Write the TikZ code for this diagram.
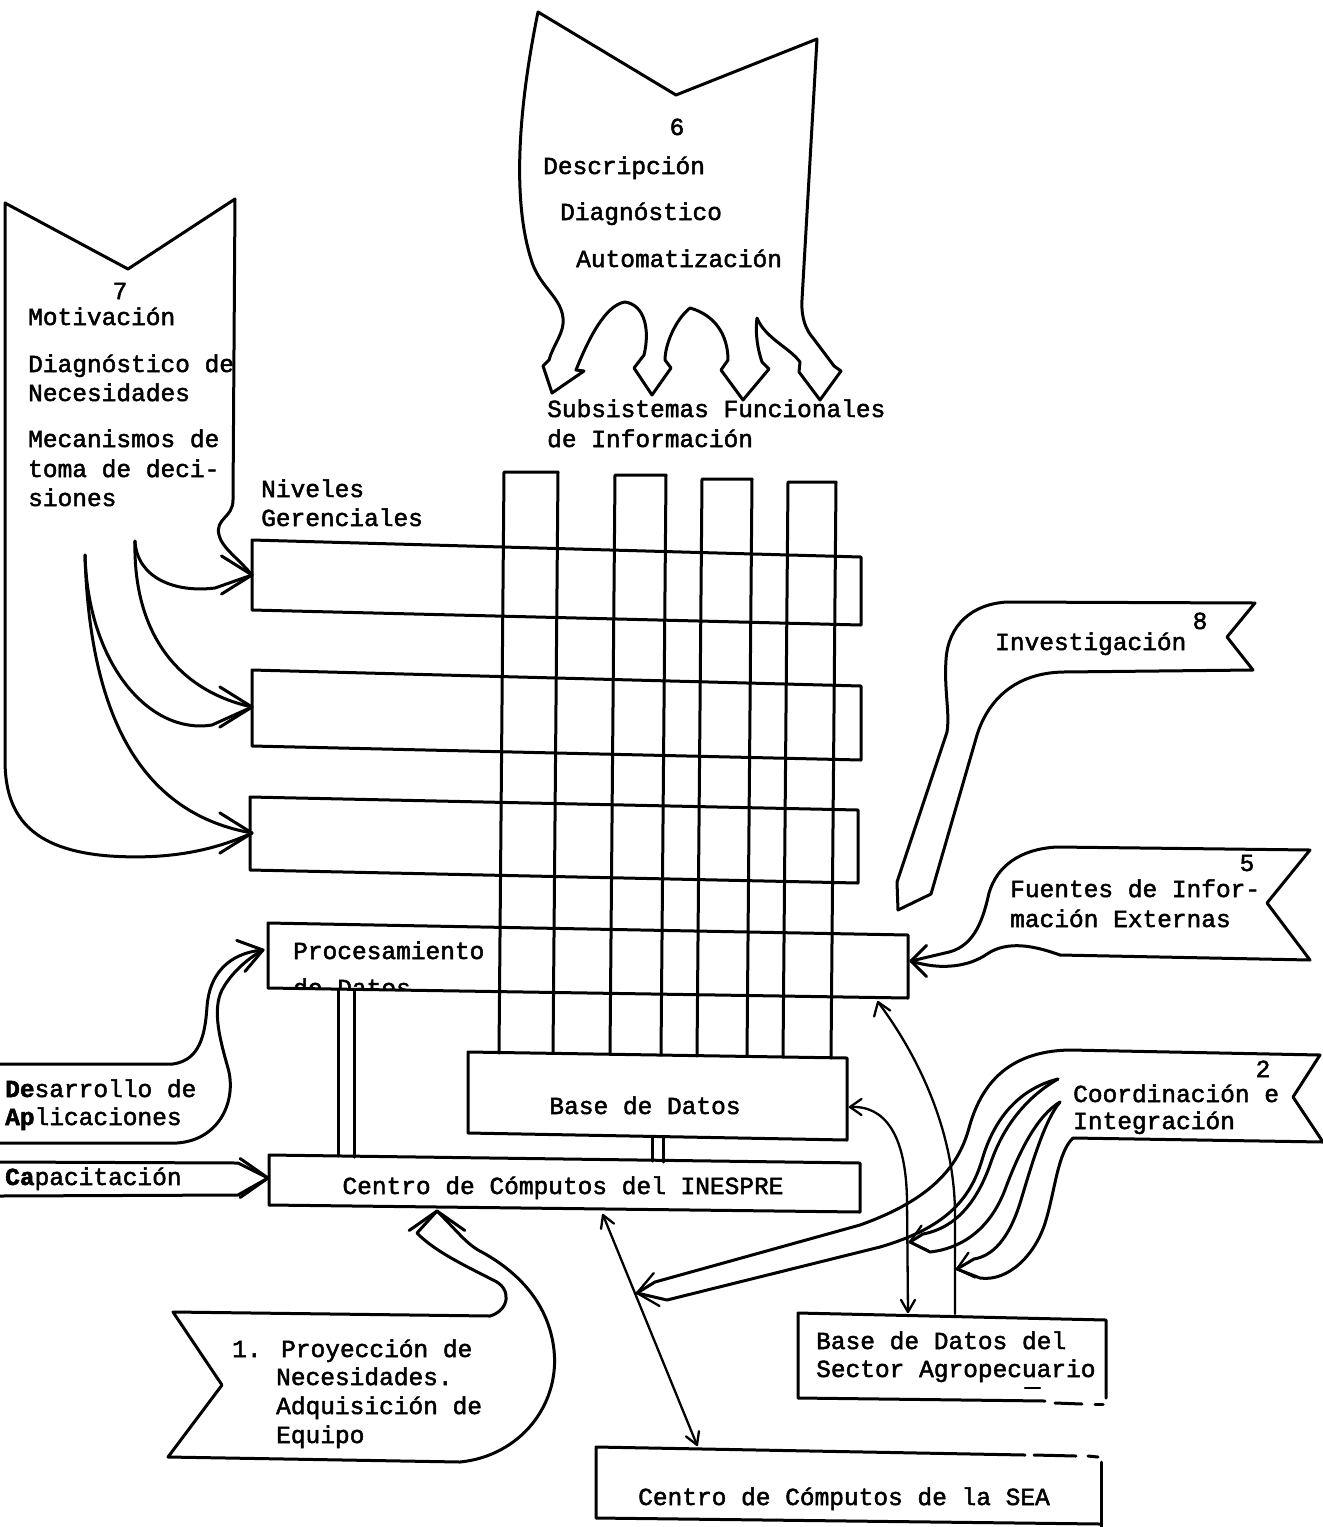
\documentclass[tikz,border=0pt]{standalone}
\usepackage{fontspec}
\newfontfamily\twfam{Liberation Mono}[FakeBold=2]
\usetikzlibrary{calc}
\newcommand\twf{\fontsize{24.5}{29}\selectfont\twfam}
\newcommand\barbs[5]{%
  \pgfmathsetmacro\bbA{#3+180-#4}%
  \pgfmathsetmacro\bbB{#3+180+#4}%
  \draw[#1] ($(#2)+(\bbA:#5)$) -- (#2) -- ($(#2)+(\bbB:#5)$);}
\tikzset{
  ln/.style={line width=3pt, line join=round, line cap=round},
  tn/.style={line width=2.3pt, line join=round, line cap=round},
  lbl/.style={anchor=base west, inner sep=0pt, font=\twf},
  lblc/.style={anchor=base, inner sep=0pt, font=\twf},
}
\begin{document}
\begin{tikzpicture}[x=1pt,y=-1pt]
\fill[white] (0,0) rectangle (1323,1527);
\useasboundingbox (0,0) rectangle (1323,1527);

% ---------- named tips ----------
\coordinate (tA) at (252,575);
\coordinate (tB) at (252,707);
\coordinate (tC) at (252,833);
\coordinate (s7a) at (135,541);
\coordinate (s7b) at (85,555);
\coordinate (t6a) at (552,393);
\coordinate (t6b) at (652,395);
\coordinate (t6c) at (743,400);
\coordinate (t6d) at (820,400);
\coordinate (t8) at (898,910);
\coordinate (t5) at (911,961);
\coordinate (tP) at (637,1293);
\coordinate (tQ) at (910,1242);
\coordinate (tR) at (957,1269);
\coordinate (c2a) at (1058,1079);
\coordinate (c2b) at (1060,1102);
\coordinate (bdR) at (850,1107);
\coordinate (agT1) at (908,1312);
\coordinate (agT2) at (955,1314);
\coordinate (prB) at (878,1002);
\coordinate (inB) at (603,1215);
\coordinate (seT) at (697,1445);
\coordinate (t1) at (437,1211);
\coordinate (tD) at (263,950);
\coordinate (tK) at (268,1178);

% ---------- shape 6 ----------
\draw[ln] (538,12) -- (676,95) -- (817,39) -- (802,300)
 .. controls (801,318) and (806,330) .. (813,338) -- (834,366) -- (841,371) -- (t6d) -- (799,372) -- (800,362)
 .. controls (790,348) and (765,338) .. (757,318)
 .. controls (755,335) and (758,350) .. (762,362) -- (769,369) -- (t6c) -- (721,370) -- (728,360)
 .. controls (728,335) and (715,315) .. (690,308)
 .. controls (675,320) and (665,345) .. (665,360) -- (671,368) -- (t6b) -- (634,368) -- (644,355)
 .. controls (650,330) and (645,305) .. (625,302)
 .. controls (605,305) and (588,340) .. (576,370) -- (584,371) -- (t6a) -- (543,366) -- (549,360)
 .. controls (553,345) and (565,332) .. (563,318)
 .. controls (561,298) and (542,288) .. (533,265)
 .. controls (510,200) and (520,100) .. (538,12) -- cycle;
\node[lblc] (n6) at (677,135) {6};
\node[lbl] (n6a) at (543,174) {Descripción};
\node[lbl] (n6b) at (560,220) {Diagnóstico};
\node[lbl] (n6c) at (576,267) {Automatización};
\node[lbl] (nsa) at (547,417) {Subsistemas Funcionales};
\node[lbl] (nsb) at (547,447) {de Información};

% ---------- shape 7 ----------
\draw[ln] (tA) .. controls (238,558) and (222,548) .. (219,535)
 .. controls (215,518) and (233,518) .. (233,500) -- (235,199) -- (128,269) -- (5,203)
 -- (5,760) .. controls (5,815) and (30,850) .. (110,856)
 .. controls (170,860) and (215,850) .. (tC);
\draw[ln] (s7a) .. controls (137,578) and (175,593) .. (215,588) -- (tA);
\draw[ln] (s7a) .. controls (133,630) and (175,690) .. (tB);
\draw[ln] (s7b) .. controls (88,665) and (150,735) .. (212,725) -- (tB);
\draw[ln] (s7b) .. controls (90,730) and (150,815) .. (tC);
\barbs{ln}{tA}{0}{32}{36}
\barbs{ln}{tB}{0}{32}{38}
\barbs{ln}{tC}{0}{32}{38}
\node[lblc] (n7) at (120,299) {7};
\node[lbl] (n7a) at (28,325) {Motivación};
\node[lbl] (n7b) at (28,372) {Diagnóstico de};
\node[lbl] (n7c) at (28,401) {Necesidades};
\node[lbl] (n7d) at (28,447) {Mecanismos de};
\node[lbl] (n7e) at (28,477) {toma de deci-};
\node[lbl] (n7f) at (28,506) {siones};

\node[lbl] (nng1) at (261,497) {Niveles};
\node[lbl] (nng2) at (261,526) {Gerenciales};

% ---------- boxes ----------
\draw[ln] (252,540) -- (861,557) -- (861,625) -- (252,610) -- cycle;
\draw[ln] (252,670) -- (861,686) -- (861,760) -- (252,746) -- cycle;
\draw[ln] (250,797) -- (858,810) -- (858,883) -- (250,870) -- cycle;
\begin{scope}
 \clip (268,923) -- (908,935) -- (908,998) -- (268,988) -- cycle;
 \node[lbl] (npr1) at (293,959) {Procesamiento};
 \node[lbl] (npr2) at (293,996) {de Datos};
\end{scope}
\draw[ln] (268,923) -- (908,935) -- (908,998) -- (268,988) -- cycle;
\draw[ln] (468,1052) -- (847,1058) -- (847,1140) -- (468,1133) -- cycle;
\node[lblc] (nbd) at (645,1114) {Base de Datos};
\draw[ln] (269,1155) -- (860,1163) -- (860,1212) -- (269,1205) -- cycle;
\node[lblc] (nin) at (563,1194) {Centro de Cómputos del INESPRE};

% columns
\foreach \xl/\xr/\ty/\byl/\byr in {504/558/472/1053/1053, 615/666/475/1054/1055, 702/752/479/1056/1056, 788/836/482/1057/1058}
  \draw[ln] (\xl-5,\byl) -- (\xl,\ty) -- (\xr,\ty) -- (\xr-5,\byr);

% double links
\draw[ln] (338,990) -- (338,1156);
\draw[ln] (354,990) -- (354,1157);
\draw[ln] (652,1137) -- (652,1161);
\draw[ln] (663,1138) -- (663,1162);

% ---------- shape 8 ----------
\draw[ln] (1227,637) -- (1255,603) -- (1007,602)
 .. controls (972,604) and (948,625) .. (946,660)
 .. controls (944,690) and (950,712) .. (947,732) -- (897,882) -- (t8) -- (931,894)
 -- (977,735) .. controls (988,700) and (1015,673) .. (1063,672) -- (1253,670) -- cycle;
\node[lbl] (n8a) at (995,650) {Investigación};
\node[lblc] (n8) at (1200,629) {8};

% ---------- shape 5 ----------
\draw[ln] (1060,955) -- (1310,960) -- (1267,903) -- (1310,850) -- (1057,847)
 .. controls (1020,849) and (997,866) .. (989,893)
 .. controls (982,925) and (972,948) .. (945,953) -- (t5);
\draw[ln] (1060,955) .. controls (1035,946) and (1008,940) .. (987,954)
 .. controls (970,966) and (942,971) .. (t5);
\barbs{ln}{t5}{180}{45}{22}
\node[lblc] (n5) at (1247,871) {5};
\node[lbl] (n5a) at (1010,897) {Fuentes de Infor-};
\node[lbl] (n5b) at (1010,927) {mación Externas};

% ---------- shape 2 ----------
\draw[ln] (1073,1138) -- (1323,1142) -- (1293,1097) -- (1320,1055) -- (1070,1050)
 .. controls (1005,1051) and (980,1088) .. (969,1128)
 .. controls (958,1168) and (930,1200) .. (860,1225) -- (655,1282) -- (tP);
\draw[ln] (c2a) .. controls (1022,1088) and (995,1115) .. (982,1160)
 .. controls (970,1200) and (945,1228) .. (880,1247) -- (667,1300) -- (tP);
\draw[ln] (c2a) .. controls (1030,1095) and (1005,1122) .. (991,1162)
 .. controls (977,1203) and (955,1228) .. (923,1234) -- (tQ);
\draw[ln] (c2b) .. controls (1037,1116) and (1020,1150) .. (1006,1187)
 .. controls (992,1226) and (965,1248) .. (930,1252) -- (tQ);
\draw[ln] (c2b) .. controls (1045,1120) and (1033,1160) .. (1021,1200)
 .. controls (1009,1240) and (992,1256) .. (974,1259) -- (tR);
\draw[ln] (1073,1138) .. controls (1058,1152) and (1055,1190) .. (1046,1220)
 .. controls (1036,1255) and (1008,1282) .. (980,1278) -- (tR);
\barbs{tn}{tP}{170}{40}{26}
\barbs{tn}{tQ}{165}{40}{20}
\barbs{tn}{tR}{165}{40}{20}
\node[lblc] (n2) at (1263,1077) {2};
\node[lbl] (n2a) at (1073,1102) {Coordinación e};
\node[lbl] (n2b) at (1073,1129) {Integración};

% ---------- thin connectors ----------
\draw[tn] (bdR) .. controls (885,1105) and (906,1135) .. (907,1200) -- (agT1);
\barbs{tn}{bdR}{180}{35}{14}
\barbs{tn}{agT1}{90}{30}{14}
\draw[tn] (agT2) -- (955,1215) .. controls (955,1140) and (925,1065) .. (prB);
\barbs{tn}{prB}{-110}{35}{15}
\draw[tn] (inB) -- (seT);
\barbs{tn}{inB}{-112}{30}{14}
\barbs{tn}{seT}{68}{30}{14}

% ---------- Agro box ----------
\draw[ln] (1045,1401) -- (798,1398) -- (798,1313) -- (1106,1320) -- (1106,1398);
\draw[ln] (1055,1403) -- (1082,1404);
\draw[ln] (1095,1404) -- (1103,1404);
\draw[tn] (1025,1388) -- (1040,1388);
\node[lbl] (nag1) at (816,1349) {Base de Datos del};
\node[lbl] (nag2) at (816,1377) {Sector Agropecuario};

% ---------- SEA box ----------
\draw[ln] (1025,1455) -- (596,1447) -- (596,1518) -- (1100,1524);
\draw[ln] (1034,1455) -- (1076,1456);
\draw[ln] (1088,1456) -- (1098,1457);
\draw[ln] (1101,1462) -- (1101,1527);
\node[lbl] (nsea) at (638,1505) {Centro de Cómputos de la SEA};

% ---------- shape 1 ----------
\draw[ln] (490,1316) -- (173,1312) -- (222,1385) -- (168,1457) -- (460,1462)
 .. controls (520,1456) and (560,1405) .. (554,1350)
 .. controls (549,1305) and (520,1272) .. (478,1250)
 .. controls (465,1242) and (458,1232) .. (t1);
\draw[ln] (490,1316) .. controls (510,1310) and (512,1288) .. (493,1280)
 .. controls (470,1268) and (435,1252) .. (417,1233) -- (t1);
\barbs{ln}{t1}{-90}{55}{34}
\node[lbl] (n1a) at (232,1357) {1. Proyección de};
\node[lbl] (n1b) at (276,1385) {Necesidades.};
\node[lbl] (n1c) at (276,1414) {Adquisición de};
\node[lbl] (n1d) at (276,1443) {Equipo};

% ---------- Desarrollo de Aplicaciones ----------
\draw[ln] (0,1064) -- (173,1064) .. controls (200,1060) and (205,1035) .. (207,1007)
 .. controls (209,975) and (228,953) .. (tD);
\draw[ln] (0,1143) -- (177,1143) .. controls (220,1140) and (237,1100) .. (228,1068)
 .. controls (220,1040) and (212,1010) .. (222,990)
 .. controls (230,975) and (245,960) .. (tD);
\barbs{ln}{tD}{-15}{35}{28}
\node[lbl] (nda) at (5,1097) {{\bfseries De}sarrollo de};
\node[lbl] (ndb) at (5,1125) {{\bfseries Ap}licaciones};

% ---------- Capacitacion ----------
\draw[ln] (0,1162) -- (238,1163) -- (tK);
\draw[ln] (0,1196) -- (238,1195) -- (tK);
\barbs{ln}{tK}{0}{35}{34}
\node[lbl] (ncap) at (5,1185) {{\bfseries Ca}pacitación};

\end{tikzpicture}
\end{document}
